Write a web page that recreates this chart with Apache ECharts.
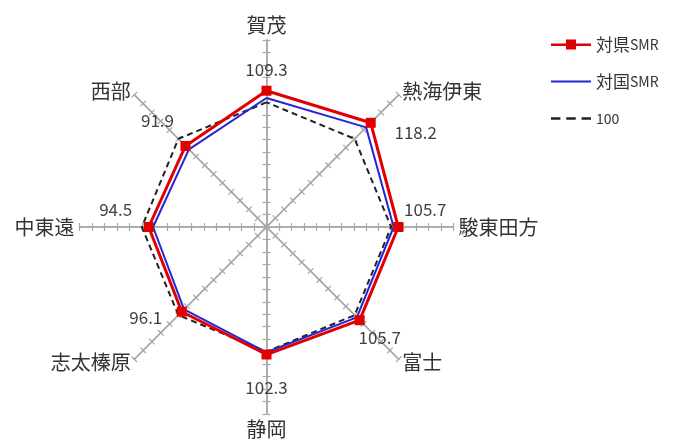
<!DOCTYPE html>
<html>
<head>
<meta charset="utf-8">
<script src="https://cdn.jsdelivr.net/npm/echarts@6/dist/echarts.min.js"></script>
<style>
  html, body { margin: 0; padding: 0; background: #fff; }
  #chart { width: 680px; height: 446px; }
</style>
</head>
<body>
<div id="chart"></div>
<script>
// areas, in echarts radar order (top, then counter-clockwise)
var areas = ['賀茂', '西部', '中東遠', '志太榛原', '静岡', '富士', '駿東田方', '熱海伊東'];
var smrPref = [109.3, 91.9, 94.5, 96.1, 102.3, 105.7, 105.7, 118.2];
var smrNation = [103.5, 88, 91, 93.5, 100.5, 102.5, 102, 113];
var base = [100, 100, 100, 100, 100, 100, 100, 100];
var seriesNames = ['対県SMR', '対国SMR', '100'];

// where each value label sits relative to its point
var labelOffsets = [[0, -21], [-28, -25], [-33, -17], [-36, 6], [0, 33], [20, 17], [27, -17], [45, 10]];

var font = '"Noto Sans CJK JP", "Noto Sans", sans-serif';
var axisGray = '#a8a8a8';

var indicator = areas.map(function (a) { return { name: a, min: 0, max: 150 }; });

// radar ignores axisTick.inside, so the second copy uses a negative length
// to put its ticks on the other side of each spoke
function radarBase(tickLen, showName) {
  return {
    center: [266.5, 227],
    radius: 187,
    startAngle: 90,
    splitNumber: 15,
    shape: 'polygon',
    indicator: indicator,
    axisName: {
      show: showName,
      color: '#333',
      fontSize: 20,
      fontFamily: font
    },
    nameGap: 5,
    axisLine: { lineStyle: { color: axisGray, width: 1.5 } },
    axisTick: { show: true, length: tickLen, lineStyle: { color: axisGray, width: 1.2 } },
    splitLine: { show: false },
    splitArea: { show: false }
  };
}

var series = [
  {
    name: seriesNames[2],
    type: 'radar',
    radarIndex: 0,
    symbol: 'none',
    lineStyle: { color: '#222', width: 2, type: [6, 4] },
    itemStyle: { color: '#222' },
    z: 2,
    data: [{ value: base }]
  },
  {
    name: seriesNames[1],
    type: 'radar',
    radarIndex: 0,
    symbol: 'none',
    lineStyle: { color: '#2424d8', width: 2 },
    itemStyle: { color: '#2424d8' },
    z: 3,
    data: [{ value: smrNation }]
  },
  {
    name: seriesNames[0],
    type: 'radar',
    radarIndex: 0,
    symbol: 'rect',
    symbolSize: 10,
    lineStyle: { color: '#e00000', width: 3 },
    itemStyle: { color: '#e00000' },
    z: 4,
    data: [{ value: smrPref }]
  }
];

// one invisible series per label, so each value label can have its own offset
areas.forEach(function (a, i) {
  var vals = areas.map(function (x, j) { return j === i ? smrPref[j] : 0; });
  series.push({
    name: '_label' + i,
    type: 'radar',
    radarIndex: 0,
    silent: true,
    symbol: 'rect',
    symbolSize: 2,
    lineStyle: { opacity: 0, width: 0 },
    itemStyle: { color: 'rgba(0,0,0,0)' },
    z: 5,
    label: {
      show: true,
      position: 'inside',
      offset: labelOffsets[i],
      color: '#404040',
      fontSize: 17,
      fontFamily: font,
      formatter: function (p) {
        var v = Array.isArray(p.value) ? p.value[i] : p.value;
        return v ? v.toFixed(1) : '';
      }
    },
    data: [{ value: vals }]
  });
});

var chart = echarts.init(document.getElementById('chart'), null, { renderer: 'canvas' });
chart.setOption({
  backgroundColor: '#fff',
  animation: false,
  legend: {
    orient: 'vertical',
    left: 546,
    top: 29,
    itemWidth: 40,
    itemHeight: 10,
    itemGap: 16,
    symbolKeepAspect: true,
    selectedMode: false,
    textStyle: {
      color: '#333',
      fontFamily: font,
      lineHeight: 21,
      rich: {
        a: { fontSize: 17, color: '#333', fontFamily: font },
        b: { fontSize: 14, color: '#333', fontFamily: font }
      }
    },
    formatter: function (name) {
      if (name === '100') return '{b|100}';
      return '{a|' + name.slice(0, 2) + '}{b|' + name.slice(2) + '}';
    },
    data: [
      { name: seriesNames[0], icon: 'path://M0,4h40v2.6h-40z M15,0h10v10h-10z', itemStyle: { color: '#e00000', borderWidth: 0 } },
      { name: seriesNames[1], icon: 'path://M0,0h40v2h-40z', itemStyle: { color: '#2424d8', borderWidth: 0 } },
      { name: seriesNames[2], icon: 'path://M0,0h8v2h-8z M13,0h8v2h-8z M26,0h8v2h-8z', itemStyle: { color: '#222', borderWidth: 0 } }
    ]
  },
  radar: [radarBase(4, true), radarBase(-4, false)],
  series: series
});
</script>
</body>
</html>
